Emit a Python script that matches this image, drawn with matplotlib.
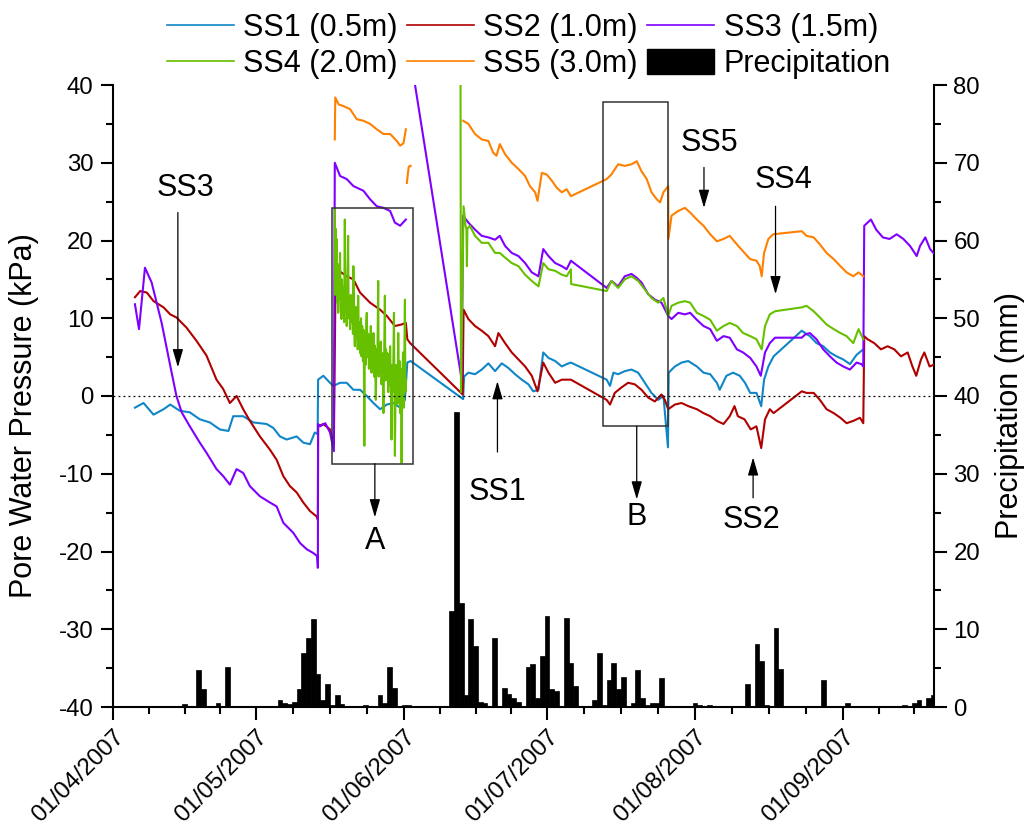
import datetime
import numpy as np
import matplotlib
matplotlib.use("Agg")
import matplotlib.pyplot as plt
import matplotlib.dates as mdates
from matplotlib.patches import Rectangle, Patch
from matplotlib.lines import Line2D

plt.rcParams['font.family'] = ['Liberation Sans', 'DejaVu Sans']
plt.rcParams['axes.unicode_minus'] = False

# days after 01/04/2007 and pore water pressure (kPa); nan = gap in the logger record
nan = np.nan
ss1_day = [4.6, 6.4, 8.5, 10.6, 12.0, 14.0, 16.1, 18.2, 20.3, 22.4, 24.2, 25.2, 27.3, 29.4, 32.2,
           33.6, 35.0, 36.4, 38.5, 39.9, 41.3, 42.3, 42.9, 43.0, 44.1, 45.5, 46.2, 47.6, 49.0, 50.4,
           51.8, 53.2, 54.6, 56.0, 57.4, 58.8, 60.2, 61.2, 61.7, 62.4, 73.4, 73.6, 74.5, 75.9, 77.3,
           78.7, 80.1, 81.5, 82.9, 84.3, 85.7, 87.1, 88.1, 89.2, 90.2, 91.3, 92.7, 94.1, 95.1, 96.0,
           103.5, 104.2, 104.9, 105.9, 107.3, 108.7, 110.1, 111.5, 112.9, 114.3, 115.4, 116.35, 116.5,
           117.8, 119.2, 120.6, 122.4, 123.8, 125.2, 126.6, 127.2, 128.6, 130.0, 131.4, 132.5, 133.6,
           134.9, 135.9, 136.5, 137.4, 138.5, 144.4, 145.1, 146.1, 147.5, 148.9, 150.3, 151.7, 153.1,
           154.5, 155.9, 157.3]
ss1_kpa = [-1.5, -0.9, -2.4, -1.7, -1.1, -1.9, -2.1, -3.0, -3.4, -4.3, -4.5, -2.6, -2.6, -3.4, -3.6,
           -4.1, -5.2, -5.6, -5.2, -6.0, -6.2, -4.7, -4.9, 2.1, 2.6, 1.7, 1.3, 1.7, 1.7, 0.8,
           0.8, 0.0, -0.9, -1.7, -1.1, -0.9, -1.5, -0.5, 4.3, 4.5, -0.4, 2.5, 3.0, 2.8, 3.4,
           4.2, 3.2, 4.2, 3.6, 2.8, 2.1, 1.5, 0.6, 0.8, 5.6, 4.9, 4.5, 3.8, 4.1, 4.3,
           2.1, 1.3, 3.0, 2.8, 3.2, 3.4, 3.0, 1.7, 0.4, -0.5, 0.0, -6.6, 3.0,
           3.8, 4.3, 4.5, 3.8, 3.0, 2.8, 1.7, 0.8, 2.6, 3.0, 2.6, 1.7, 0.4,
           0.4, -1.3, 2.1, 3.8, 5.1, 8.4, 8.1, 7.7, 6.8, 6.4, 5.6, 5.1, 4.7,
           4.1, 5.3, 6.0]

ss2_day = [4.6, 5.7, 7.1, 8.5, 10.6, 12.0, 13.3, 15.4, 17.5, 19.6, 21.7, 23.1, 24.5, 25.9, 27.3,
           28.7, 30.8, 32.9, 34.3, 35.7, 37.1, 38.5, 39.9, 41.3, 42.7, 42.95, 43.0, 44.1, 45.5, 46.3,
           46.7, 47.6, 49.0, 50.4, 51.8, 53.9, 56.0, 57.4, 59.1, 60.5, 61.4, 61.7, 62.3, 73.3, 73.5,
           74.5, 75.9, 77.3, 78.7, 80.1, 80.8, 82.2, 83.6, 85.0, 86.4, 87.8, 89.0, 90.2, 91.3, 92.7,
           94.1, 95.1, 96.0, 103.5, 104.2, 105.2, 106.6, 108.0, 109.4, 110.8, 112.2, 113.6, 115.0,
           115.7, 116.4, 117.8, 119.2, 120.6, 122.4, 123.8, 125.2, 126.6, 128.0, 129.3, 130.3, 131.0,
           132.4, 133.7, 134.9, 135.9, 136.7, 137.7, 138.5, 144.4, 145.4, 146.9, 148.2, 149.6, 151.1,
           152.5, 153.8, 155.2, 156.6, 157.3, 157.5, 158.2, 159.6, 161.0, 162.4, 163.8, 165.2, 166.6,
           167.6, 168.4, 169.4, 170.1, 171.2, 172.0]
ss2_kpa = [12.7, 13.5, 13.3, 12.2, 11.4, 10.5, 10.1, 8.8, 7.1, 5.2, 2.1, 0.9, -0.9, 0.0, -1.7,
           -3.2, -5.2, -6.9, -8.2, -10.3, -11.6, -12.4, -13.7, -14.8, -15.5, -15.9, -3.9, -3.6, -4.3, -6.4,
           17.2, 16.0, 15.4, 15.0, 13.3, 12.0, 11.1, 10.3, 9.0, 9.2, 9.4, 7.3, 6.8, 0.2, 11.1,
           9.9, 9.0, 8.4, 7.7, 6.4, 8.1, 6.8, 5.6, 4.7, 3.8, 2.6, 0.6, 4.3, 3.0, 1.7,
           2.1, 2.1, 2.1, -0.5, -1.1, 0.4, 1.1, 1.7, 1.5, 0.8, -0.2, -0.7, 0.2,
           -0.5, -1.7, -1.1, -0.9, -1.3, -1.7, -2.2, -2.6, -3.2, -3.6, -2.6, -1.3, -2.6,
           -3.0, -4.3, -3.9, -6.7, -3.0, -1.7, -2.2, 0.6, 0.4, 0.4, -0.5, -1.7, -2.2,
           -2.8, -3.5, -3.2, -2.8, -3.5, 7.7, 7.3, 6.8, 6.0, 6.4, 6.0, 5.1, 5.6,
           3.8, 2.6, 4.7, 5.6, 3.8, 4.0]

ss3_day = [4.6, 5.45, 6.7, 8.1, 10.2, 12.0, 13.3, 14.4, 16.1, 18.2, 19.6, 21.7, 23.1, 24.5, 25.9,
           27.3, 28.7, 30.8, 32.9, 34.3, 35.7, 37.8, 39.2, 40.6, 42.0, 42.8, 42.95, 43.0, 43.4, 44.5,
           45.5, 46.3, 46.5, 47.6, 49.0, 50.4, 52.5, 53.9, 55.3, 56.7, 58.1, 59.1, 60.2, 61.4, 62.0,
           62.5, 73.1, 73.4, 74.5, 75.9, 77.3, 78.7, 80.1, 81.1, 82.2, 83.6, 85.0, 86.4, 87.8, 89.2,
           90.2, 91.3, 92.7, 94.1, 95.1, 96.0, 103.5, 104.5, 105.9, 107.3, 108.7, 109.8, 110.8, 112.2,
           113.6, 115.0, 116.4, 117.1, 118.5, 119.9, 121.0, 122.4, 123.8, 125.2, 126.6, 128.0, 129.3,
           130.8, 132.1, 133.6, 134.9, 135.8, 136.7, 137.7, 138.8, 144.4, 145.1, 146.1, 147.5, 148.9,
           150.3, 151.7, 153.1, 154.5, 155.9, 156.9, 157.3, 157.5, 158.9, 160.0, 161.4, 162.8, 164.3,
           165.7, 167.1, 168.5, 169.2, 170.3, 171.3, 172.0]
ss3_kpa = [11.8, 8.6, 16.5, 14.6, 9.4, 3.9, 0.0, -2.1, -3.9, -6.0, -7.3, -9.4, -10.3, -11.4, -9.4,
           -9.9, -11.6, -12.9, -13.7, -14.2, -16.3, -17.6, -18.9, -19.7, -20.2, -20.6, -22.1, -3.6, -3.9, -3.5,
           -4.7, -7.1, 30.0, 28.3, 27.9, 27.0, 26.4, 25.3, 24.4, 24.2, 23.8, 22.3, 21.9, 22.7, nan,
           43.2, 2.1, 23.2, 22.3, 21.4, 20.6, 20.4, 20.1, 20.6, 19.3, 18.4, 18.0, 17.1, 15.9, 15.4,
           18.9, 18.0, 17.1, 16.7, 16.3, 17.4, 13.9, 14.8, 14.1, 15.4, 15.7, 15.2, 14.6, 13.1,
           12.4, 12.0, 10.3, 9.9, 10.7, 10.5, 10.7, 9.8, 9.0, 8.6, 7.1, 7.7, 7.5,
           6.0, 5.6, 4.9, 3.8, 2.6, 5.6, 6.8, 7.5, 7.5, 7.9, 8.1, 7.3, 6.0,
           5.1, 4.3, 3.8, 3.4, 4.3, 4.1, 3.8, 21.9, 22.7, 21.4, 20.4, 20.2, 20.8,
           20.2, 19.3, 18.0, 19.3, 20.4, 18.9, 18.4]

ss4_day = [46.5, 46.6, 46.7, 46.8, 46.9, 47.0, 47.1, 47.2, 47.35, 47.5, 47.6, 47.75, 47.9, 48.0, 48.15,
           48.3, 48.45, 48.6, 48.7, 48.85, 49.0, 49.15, 49.3, 49.4, 49.55, 49.7, 49.85, 50.0, 50.15, 50.3,
           50.4, 50.55, 50.7, 50.85, 51.0, 51.15, 51.3, 51.4, 51.55, 51.7, 51.85, 52.0, 52.1, 52.25, 52.4,
           52.55, 52.7, 52.8, 52.95, 53.1, 53.2, 53.35, 53.5, 53.65, 53.8, 53.9, 54.05, 54.2, 54.35, 54.5,
           54.6, 54.75, 54.9, 55.1, 55.25, 55.4, 55.6, 55.7, 55.85, 56.0, 56.15, 56.3, 56.5, 56.7, 56.85,
           57.0, 57.1, 57.25, 57.4, 57.55, 57.7, 57.85, 58.0, 58.1, 58.25, 58.4, 58.55, 58.7, 58.9, 59.0,
           59.1, 59.3, 59.5, 59.65, 59.8, 59.95, 60.1, 60.2, 60.35, 60.5, 60.65, 60.8, 60.95, 61.1, 61.2,
           61.3, 61.4, 62.0, 72.85, 72.95, 73.5, 73.9, 74.1, 74.2, 74.3, 74.8, 75.9, 77.3, 78.7, 80.1,
           81.1, 82.2, 83.6, 85.0, 86.4, 87.8, 89.2, 90.2, 91.3, 92.7, 94.1, 95.1, 96.0, 96.05, 103.5,
           104.5, 105.9, 107.3, 108.7, 110.1, 111.5, 112.9, 114.3, 115.4, 116.4, 117.1, 118.5, 119.9, 121.0,
           122.4, 123.8, 125.2, 126.6, 128.0, 129.3, 130.8, 132.1, 133.6, 134.9, 136.0, 136.7, 137.7, 138.8,
           144.4, 145.4, 146.9, 148.2, 149.6, 151.1, 152.5, 153.8, 155.2, 156.3, 157.3]
ss4_kpa = [24.0, 13.0, 21.5, 15.5, 20.2, 12.0, 17.0, 10.7, 16.0, 12.5, 18.4, 11.0, 9.9, 15.0, 10.5,
           14.0, 9.5, 22.7, 11.6, 13.5, 9.0, 15.5, 20.6, 10.0, 12.5, 8.6, 13.0, 9.5, 12.0, 8.0,
           16.7, 9.0, 6.4, 11.5, 7.5, 10.5, 6.0, 12.9, 7.0, 9.5, 5.5, 10.0, 5.1, 9.0, 4.5,
           8.5, -6.4, 7.5, 4.0, 9.5, 10.7, 5.0, 8.0, 3.5, 7.0, 5.6, 9.0, 3.0, 7.5, 4.0,
           8.1, 2.5, 6.5, -0.5, 6.0, 3.0, 14.8, 2.5, 6.0, 3.0, 7.0, 1.5, 5.5, -2.2, 5.0,
           12.9, 2.0, 6.0, 2.1, 5.5, 0.5, 4.5, 1.5, 6.4, 1.0, -5.6, 4.0, 0.5, 10.7, 1.5,
           -7.7, 4.0, 3.0, -1.0, 8.1, 0.5, 4.5, -2.2, 3.5, -8.6, 2.0, 5.6, -1.5, 6.0, 12.4,
           0.5, 2.1, nan, 45.0, 0.5, 24.4, 22.0, 21.4, 16.7, 21.5, 21.9, 20.6, 19.7, 19.7, 18.4,
           18.4, 17.8, 17.1, 16.7, 15.6, 14.8, 14.1, 17.1, 16.3, 16.1, 15.6, 15.4, 16.3, 14.4, 13.5,
           14.8, 13.9, 15.0, 15.4, 14.8, 13.7, 12.6, 12.0, 12.6, 10.3, 11.6, 12.0, 12.2, 12.0,
           10.7, 10.3, 9.8, 8.4, 9.0, 9.4, 9.0, 8.1, 7.7, 7.3, 6.0, 9.0, 10.5, 10.9,
           11.4, 11.6, 10.9, 10.1, 9.2, 8.6, 8.1, 7.7, 6.8, 8.6, 7.3]

ss5_day = [46.5, 46.6, 47.3, 48.3, 49.7, 51.1, 52.5, 53.9, 55.3, 56.7, 58.1, 59.5, 60.2, 60.9, 61.4,
           61.5, 61.6, 62.0, 62.4, 63.0, 73.4, 74.5, 75.9, 77.3, 78.7, 79.7, 80.4, 81.1, 82.2, 83.6,
           85.0, 86.4, 87.4, 88.5, 89.0, 89.9, 90.9, 92.0, 93.0, 94.1, 95.1, 96.0, 103.5, 104.5, 105.9,
           107.3, 108.7, 109.8, 110.8, 111.9, 112.9, 114.0, 114.7, 115.4, 116.4, 116.45, 117.1, 118.5,
           119.9, 121.0, 122.4, 123.8, 125.2, 126.6, 128.0, 129.3, 130.8, 132.1, 133.6, 134.9, 135.6,
           136.0, 136.5, 137.4, 138.4, 144.4, 145.4, 146.9, 148.2, 149.6, 151.1, 152.5, 153.8, 155.2,
           156.3, 157.3]
ss5_kpa = [33.0, 38.4, 37.5, 37.3, 36.9, 35.6, 35.4, 35.0, 34.3, 33.7, 33.7, 32.8, 32.2, 32.5, 34.3,
           nan, 27.4, 29.5, 29.6, nan, 35.4, 35.0, 33.7, 33.0, 32.8, 31.3, 30.9, 32.4, 31.1, 30.0,
           29.2, 28.3, 27.0, 26.2, 25.1, 28.7, 28.5, 27.7, 26.8, 26.2, 26.6, 25.7, 27.9, 28.5, 29.8,
           29.6, 29.8, 30.2, 28.9, 27.9, 26.2, 25.3, 24.9, 26.2, 27.0, 20.2, 23.2, 23.8,
           24.2, 23.6, 22.7, 21.9, 20.8, 19.9, 20.2, 20.6, 19.5, 18.6, 17.6, 17.4, 16.7,
           15.4, 18.4, 20.2, 20.8, 21.2, 20.6, 20.4, 19.5, 18.4, 17.6, 16.7, 15.9, 15.4,
           15.9, 15.4]

# daily precipitation (mm)
rain_day = [15, 18, 19, 22, 24, 35, 36, 37, 38, 39, 40, 41, 42, 43, 44, 45, 46, 47, 48, 53, 56, 57,
            58, 59, 61, 62, 71, 72, 73, 74, 75, 76, 77, 78, 80, 82, 83, 84, 85, 87, 88, 89, 90, 91,
            92, 93, 95, 96, 97, 101, 102, 103, 104, 105, 106, 107, 109, 110, 111, 112, 113, 114, 115,
            122, 123, 125, 133, 135, 136, 137, 139, 140, 149, 154, 166, 168, 169, 171, 172]
rain_mm = [0.4, 4.7, 2.3, 0.5, 5.2, 0.85, 0.5, 0.45, 0.7, 2.3, 6.9, 8.9, 11.3, 4.2, 0.85, 2.9, 0.25,
           1.5, 0.45, 0.25, 1.5, 0.5, 5.2, 2.4, 0.25, 0.25, 12.3, 38.0, 13.4, 1.6, 11.3, 7.9, 0.7,
           0.5, 8.9, 2.4, 1.7, 1.1, 0.7, 5.2, 5.5, 1.1, 6.5, 11.7, 2.3, 2.1, 11.5, 5.7, 2.7, 0.85,
           6.9, 0.25, 3.5, 5.7, 2.3, 3.9, 0.5, 4.8, 1.1, 0.25, 0.5, 0.5, 3.7, 0.5, 0.25, 0.25, 2.9,
           8.1, 5.9, 0.25, 10.1, 4.9, 3.5, 0.5, 0.25, 0.5, 0.85, 1.1, 1.5]

labels = ['SS1 (0.5m)', 'SS2 (1.0m)', 'SS3 (1.5m)', 'SS4 (2.0m)', 'SS5 (3.0m)']
colors = ['#0f86c8', '#b00000', '#8000ff', '#66c000', '#ff8000']
days = [ss1_day, ss2_day, ss3_day, ss4_day, ss5_day]
vals = [ss1_kpa, ss2_kpa, ss3_kpa, ss4_kpa, ss5_kpa]

t0 = mdates.date2num(datetime.datetime(2007, 4, 1))
t_end = mdates.date2num(datetime.datetime(2007, 9, 20, 3))

fig = plt.figure(figsize=(10.3, 8.25), dpi=100)
ax = fig.add_axes([113/1030, 118/825, 821/1030, 622/825])
ax2 = ax.twinx()

ax2.bar(t0 + np.array(rain_day), rain_mm, width=1.0, color='black', edgecolor='black', lw=0.5)

for d, v, c in zip(days, vals, colors):
    ax.plot(t0 + np.array(d), v, color=c, lw=1.5)

ax.axhline(0, color='black', lw=0.9, ls=(0, (1.5, 2.5)))

ax.set_zorder(ax2.get_zorder() + 1)
ax.patch.set_visible(False)

months = [datetime.datetime(2007, m, 1) for m in range(4, 11)]
mnum = mdates.date2num(months)
minor = []
for a, b in zip(mnum[:-1], mnum[1:]):
    minor += [a + k * (b - a) / 4 for k in (1, 2, 3)]
minor = [m for m in minor if m < t_end]
ax.set_xticks(mnum[:-1])
ax.set_xticks(minor, minor=True)
ax.xaxis.set_major_formatter(mdates.DateFormatter('%d/%m/%Y'))
ax.set_yticks(np.arange(-40, 41, 10))
ax.set_yticks(np.arange(-35, 40, 10), minor=True)
ax2.set_yticks(np.arange(0, 81, 10))
ax2.set_yticks(np.arange(5, 80, 10), minor=True)
ax.set_xlim(t0, t_end)
ax.set_ylim(-40, 40)
ax2.set_ylim(0, 80)

for a in (ax, ax2):
    a.spines['top'].set_visible(False)
    for s in a.spines.values():
        s.set_linewidth(1.5)
    a.tick_params(which='major', length=9, width=1.5, labelsize=17.3, pad=5)
    a.tick_params(which='minor', length=5, width=1.5)
ax.spines['right'].set_visible(False)
ax2.spines['left'].set_visible(False)
ax2.spines['bottom'].set_visible(False)

for lab in ax.get_xticklabels():
    lab.set_rotation(45)
    lab.set_ha('right')
    lab.set_va('top')
    lab.set_rotation_mode('anchor')

ax.set_ylabel('Pore Water Pressure (kPa)', fontsize=22, va='center', ha='center')
ax.yaxis.set_label_coords(-0.108, 0.469)
ax2.set_ylabel('Precipitation (mm)', fontsize=22, va='center', ha='center', rotation=90)
ax2.yaxis.set_label_coords(1.0926, 0.469)

# boxes A and B
ax.add_patch(Rectangle((t0 + 46.0, -8.7), 16.9, 32.9, fill=False, ec='#333333', lw=1.1, zorder=5))
ax.add_patch(Rectangle((t0 + 102.8, -3.9), 13.6, 41.7, fill=False, ec='#333333', lw=1.1, zorder=5))

arrow = dict(arrowstyle='-|>,head_length=0.55,head_width=0.16', color='black', lw=0.9,
             mutation_scale=20, shrinkA=0, shrinkB=0)
notes = [  # text, text pos, arrow tail, arrow tip
    ('SS3', (15.1, 26.8), (13.6, 23.6), (13.6, 3.7)),
    ('A', (54.9, -18.6), (54.9, -8.7), (54.9, -15.6)),
    ('SS1', (80.6, -12.4), (80.6, -7.2), (80.6, 1.9)),
    ('B', (109.8, -15.6), (109.8, -3.9), (109.8, -13.3)),
    ('SS5', (125.0, 32.6), (123.9, 29.4), (123.9, 24.2)),
    ('SS4', (140.6, 27.8), (138.9, 24.4), (138.9, 13.1)),
    ('SS2', (133.8, -16.0), (134.2, -13.1), (134.2, -7.9)),
]
for txt, tp, tail, tip in notes:
    ax.text(t0 + tp[0], tp[1], txt, fontsize=22, ha='center', va='center', zorder=6)
    ax.annotate('', xy=(t0 + tip[0], tip[1]), xytext=(t0 + tail[0], tail[1]),
                arrowprops=arrow, zorder=6)

handles = [Line2D([], [], color=c, lw=1.2) for c in colors]
handles.append(Patch(facecolor='black', edgecolor='black'))
names = labels + ['Precipitation']
order = [0, 3, 1, 4, 2, 5]
fig.legend([handles[i] for i in order], [names[i] for i in order], ncol=3,
           loc='upper left', bbox_to_anchor=(167/1030, 0.984), frameon=False, fontsize=22,
           handlelength=2.2, handleheight=0.9, handletextpad=0.3, columnspacing=0.3,
           labelspacing=0.18, borderpad=0, borderaxespad=0)

fig.savefig('out.png', dpi=100)
